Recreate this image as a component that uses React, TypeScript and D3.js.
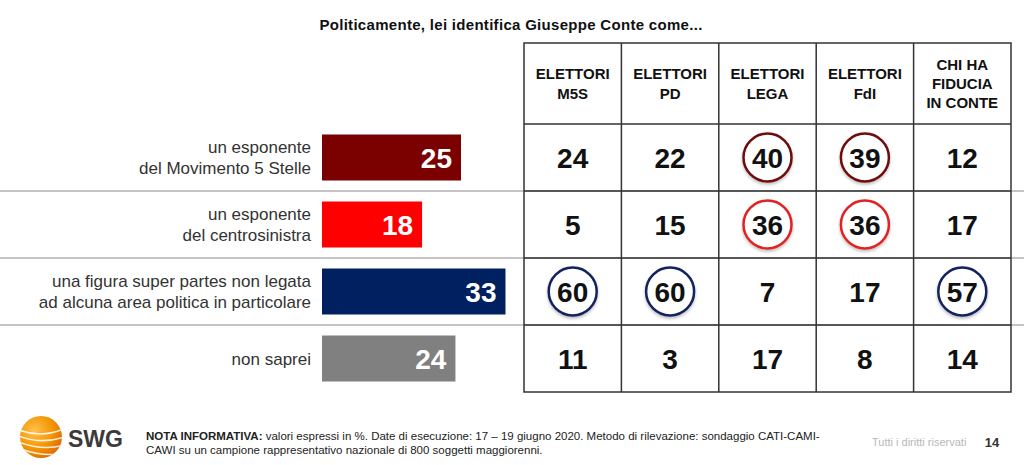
import React from "react";
import * as d3 from "d3";

const TITLE = "Politicamente, lei identifica Giuseppe Conte come...";
const CATEGORY_LINES: string[][] = [
  ["un esponente", "del Movimento 5 Stelle"],
  ["un esponente", "del centrosinistra"],
  ["una figura super partes non legata", "ad alcuna area politica in particolare"],
  ["non saprei"],
];
const CATEGORIES = ["m5s", "csx", "superpartes", "nonsaprei"];
const TOTALS = [25, 18, 33, 24];
const BAR_COLORS = ["#7b0000", "#ff0000", "#002060", "#808080"];
const GROUP_HEADERS: string[][] = [
  ["ELETTORI", "M5S"],
  ["ELETTORI", "PD"],
  ["ELETTORI", "LEGA"],
  ["ELETTORI", "FdI"],
  ["CHI HA", "FIDUCIA", "IN CONTE"],
];
const GROUP_KEYS = ["m5s", "pd", "lega", "fdi", "fiducia"];
// rows = categories, cols = groups
const VALUES: number[][] = [
  [24, 22, 40, 39, 12],
  [5, 15, 36, 36, 17],
  [60, 60, 7, 17, 57],
  [11, 3, 17, 8, 14],
];
const HIGHLIGHT: boolean[][] = [
  [false, false, true, true, false],
  [false, false, true, true, false],
  [true, true, false, false, true],
  [false, false, false, false, false],
];
const CIRCLE_COLORS = ["#6e0c0c", "#e02424", "#12245e", "#808080"];
const NOTE_BOLD = "NOTA INFORMATIVA:";
const NOTE_LINE1 = " valori espressi in %. Date di esecuzione: 17 – 19 giugno 2020. Metodo di rilevazione: sondaggio CATI-CAMI-";
const NOTE_LINE2 = "CAWI su un campione rappresentativo nazionale di 800 soggetti maggiorenni.";
const RIGHTS = "Tutti i diritti riservati";
const PAGE = "14";

const W = 1024;
const H = 465;
const FONT = "Liberation Sans, Arial, Helvetica, sans-serif";

export default function App() {
  const tableLeft = 524;
  const tableRight = 1011;
  const tableTop = 43;
  const headerBottom = 124;
  const tableBottom = 392;

  const y = d3.scaleBand<string>().domain(CATEGORIES).range([headerBottom, tableBottom]);
  const col = d3.scaleBand<string>().domain(GROUP_KEYS).range([tableLeft, tableRight]);
  const x = d3.scaleLinear().domain([0, 100]).range([322, 322 + 556]);
  const barH = 46;

  const rowLines = CATEGORIES.slice(1).map((c) => y(c)!);

  return (
    <svg width={W} height={H} style={{ position: "absolute", left: 0, top: 0, background: "#fff" }} fontFamily={FONT}>
      <defs>
        <filter id="sh" x="-30%" y="-30%" width="160%" height="170%">
          <feDropShadow dx="0" dy="2" stdDeviation="1.5" floodColor="#000" floodOpacity="0.25" />
        </filter>
        <radialGradient id="logoGrad" cx="35%" cy="35%" r="75%">
          <stop offset="0%" stopColor="#ffc24a" />
          <stop offset="60%" stopColor="#f39200" />
          <stop offset="100%" stopColor="#d9650a" />
        </radialGradient>
        <clipPath id="logoClip">
          <circle cx={41} cy={437} r={21} />
        </clipPath>
      </defs>
      <rect width={W} height={H} fill="#fff" />

      <text x={511} y={30} textAnchor="middle" fontSize={15} fontWeight="bold" letterSpacing={0.3} fill="#111">
        {TITLE}
      </text>

      {/* full-width separators */}
      {rowLines.map((ly, i) => (
        <line key={i} x1={0} x2={W} y1={ly} y2={ly} stroke="#8a8a8a" strokeWidth={1.2} />
      ))}

      {/* bars and labels */}
      {CATEGORIES.map((c, i) => {
        const cy = y(c)! + y.bandwidth() / 2;
        const lines = CATEGORY_LINES[i];
        const lh = 21;
        const start = cy - ((lines.length - 1) * lh) / 2;
        return (
          <g key={c}>
            {lines.map((t, j) => (
              <text key={j} x={311} y={start + j * lh + 6} textAnchor="end" fontSize={17} fill="#333">
                {t}
              </text>
            ))}
            <rect x={x(0)} y={cy - barH / 2} width={x(TOTALS[i]) - x(0)} height={barH} fill={BAR_COLORS[i]} />
            <text x={x(TOTALS[i]) - 9} y={cy + 10} textAnchor="end" fontSize={28} fontWeight="bold" fill="#fff">
              {TOTALS[i]}
            </text>
          </g>
        );
      })}

      {/* table */}
      <rect x={tableLeft} y={tableTop} width={tableRight - tableLeft} height={tableBottom - tableTop} fill="none" stroke="#333" strokeWidth={1.5} />
      <line x1={tableLeft} x2={tableRight} y1={headerBottom} y2={headerBottom} stroke="#333" strokeWidth={1.5} />
      {rowLines.map((ly, i) => (
        <line key={i} x1={tableLeft} x2={tableRight} y1={ly} y2={ly} stroke="#333" strokeWidth={1.5} />
      ))}
      {GROUP_KEYS.slice(1).map((k) => (
        <line key={k} x1={col(k)!} x2={col(k)!} y1={tableTop} y2={tableBottom} stroke="#333" strokeWidth={1.5} />
      ))}

      {GROUP_KEYS.map((k, gi) => {
        const cx = col(k)! + col.bandwidth() / 2;
        const lines = GROUP_HEADERS[gi];
        const lh = lines.length > 2 ? 19 : 20;
        const hc = (tableTop + headerBottom) / 2;
        const start = hc - ((lines.length - 1) * lh) / 2;
        return (
          <g key={k}>
            {lines.map((t, j) => (
              <text key={j} x={cx} y={start + j * lh + 5} textAnchor="middle" fontSize={15} fontWeight="bold" fill="#111">
                {t}
              </text>
            ))}
            {CATEGORIES.map((c, ri) => {
              const cy = y(c)! + y.bandwidth() / 2;
              return (
                <g key={c}>
                  {HIGHLIGHT[ri][gi] && (
                    <circle cx={cx} cy={cy} r={24} fill="#fff" stroke={CIRCLE_COLORS[ri]} strokeWidth={2.5} filter="url(#sh)" />
                  )}
                  <text x={cx} y={cy + 10} textAnchor="middle" fontSize={28} fontWeight="bold" fill="#111">
                    {VALUES[ri][gi]}
                  </text>
                </g>
              );
            })}
          </g>
        );
      })}

      {/* footer logo */}
      <g>
        <circle cx={41} cy={437} r={21} fill="url(#logoGrad)" />
        <g clipPath="url(#logoClip)" fill="none" stroke="#fff" strokeWidth={1.6} opacity={0.85}>
          {[0, 6, 12, 18].map((o, i) => (
            <path key={i} d={`M ${14} ${428 + o} Q ${40} ${440 + o} ${66} ${428 + o * 1.4}`} />
          ))}
        </g>
        <text x={68} y={447} fontSize={23} fontWeight="bold" fill="#3a3a3a">SWG</text>
      </g>

      <text x={146} y={440} fontSize={11.5} fill="#222">
        <tspan fontWeight="bold">{NOTE_BOLD}</tspan>
        <tspan>{NOTE_LINE1}</tspan>
      </text>
      <text x={146} y={454} fontSize={11.5} fill="#222">
        {NOTE_LINE2}
      </text>
      <text x={872} y={446} fontSize={11} fill="#b8b8b8">{RIGHTS}</text>
      <text x={992} y={447} textAnchor="middle" fontSize={13} fontWeight="bold" fill="#333">{PAGE}</text>
    </svg>
  );
}
